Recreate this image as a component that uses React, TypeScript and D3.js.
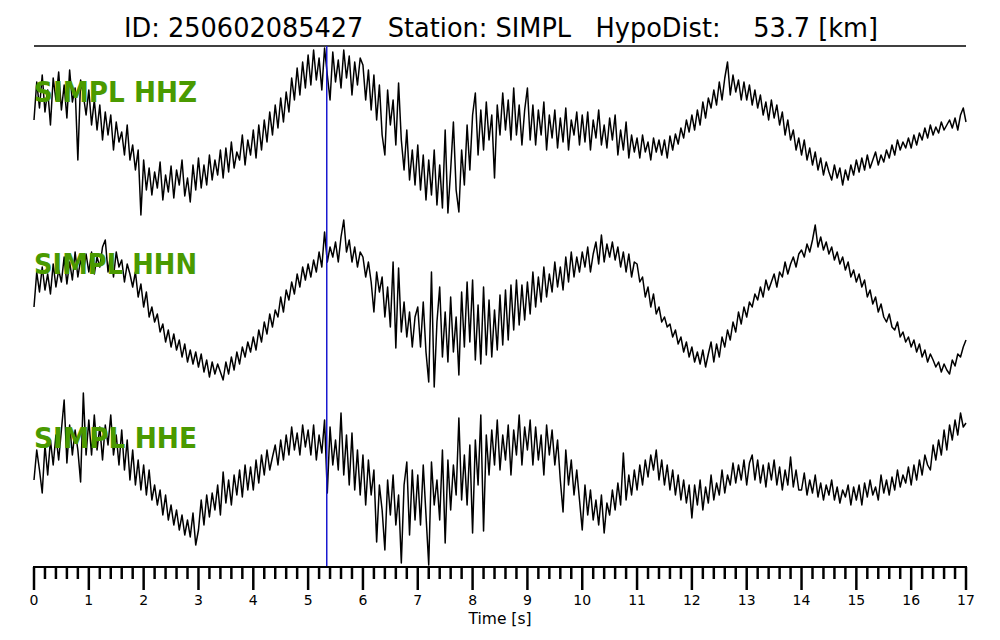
import React from 'react';
import * as d3 from 'd3';

const TITLE = 'ID: 250602085427   Station: SIMPL   HypoDist:    53.7 [km]';
const CHANNELS = ['SIMPL HHZ', 'SIMPL HHN', 'SIMPL HHE'];
const MAJOR_TICKS = [0, 1, 2, 3, 4, 5, 6, 7, 8, 9, 10, 11, 12, 13, 14, 15, 16, 17];
const TICK_LABELS = ['0', '1', '2', '3', '4', '5', '6', '7', '8', '9', '10', '11', '12', '13', '14', '15', '16', '17'];
const MINOR_PER_MAJOR = 5;
const X_LABEL = 'Time [s]';
const SAMPLE_DT = 0.05;
const PICK_TIME = 5.34;

const HHZ = [
  10, 48, 22, 55, 18, 40, 5, 52, 30, 58, 20, 45, 12, 60, 28, 42, -30, 50, 35, 15,
  40, 5, 30, 0, 25, -10, 18, -5, 15, -20, 8, -12, -2, -25, 5, -30, -15, -40, -20, -85,
  -30, -60, -38, -65, -42, -58, -32, -70, -45, -62, -36, -68, -40, -55, -30, -66, -48, -72, -35, -60,
  -28, -58, -35, -55, -25, -50, -30, -45, -20, -48, -18, -42, -12, -38, -22, -30, -5, -35, -10, -25,
  0, -28, 5, -20, 10, -12, 18, -5, 25, 2, 32, 8, 38, 18, 52, 30, 62, 35, 68, 42,
  75, 45, 80, 50, 72, 40, 82, 55, 30, 78, 48, 70, 42, 80, 52, 74, 35, 68, 45, 72,
  65, 30, 60, 20, 55, 10, 45, -5, -25, 40, 5, 30, -15, 47, -10, -40, 0, -50, -20, -55,
  -15, -60, -25, -70, -30, -65, -20, -75, -35, -78, 0, -83, -40, 8, -60, -82, -20, -55, 5, -40,
  15, 37, -25, 20, -20, 28, -10, 15, -48, 25, -5, 37, 0, 30, -10, 42, -5, 25, -15, 20,
  42, -10, 25, -15, 20, -5, 28, -20, 15, -8, 20, -18, 12, -12, 22, -20, 10, -5, 18, -15,
  15, -12, 18, -20, 10, -8, 20, -15, 5, -18, 12, -10, 15, -25, 0, -20, 8, -28, -5, -22,
  -8, -28, -5, -22, -12, -30, -8, -22, -10, -25, -10, -28, -6, -20, -4, -14, 2, -8, 10, -2,
  15, 0, 20, 5, 28, 12, 32, 22, 40, 25, 48, 30, 52, 68, 35, 55, 38, 50, 30, 48,
  30, 45, 25, 40, 22, 35, 15, 28, 10, 30, 12, 25, 5, 18, -5, 10, -10, 0, -20, -8,
  -25, -10, -30, -18, -35, -22, -40, -28, -45, -32, -42, -50, -35, -48, -38, -55, -40, -50, -35, -45,
  -30, -42, -28, -40, -25, -38, -30, -22, -35, -25, -32, -20, -28, -15, -25, -10, -20, -12, -18, -8,
  -18, -5, -15, -3, -10, 2, -8, 5, -5, 3, -3, 8, 0, 5, 10, 2, 12, 0, 15, 22,
  8,
];

const HHN = [
  -5, 30, 10, 35, 12, 28, 8, 38, 15, 32, 20, 45, 18, 40, 22, 50, 25, 42, 30, 48,
  30, 50, 28, 45, 35, 55, 62, 30, 48, 25, 50, 35, 42, 20, 38, 28, 15, 30, 5, 18,
  -5, 10, -15, -5, -20, -12, -30, -22, -40, -28, -45, -32, -48, -38, -55, -42, -60, -48, -62, -50,
  -65, -52, -70, -58, -75, -60, -72, -62, -70, -78, -60, -72, -55, -68, -50, -62, -45, -55, -40, -50,
  -35, -48, -28, -40, -20, -32, -12, -25, -8, -15, 5, -10, 12, 2, 20, 8, 28, 15, 35, 22,
  38, 25, 42, 30, 50, 35, 70, 40, 55, 45, 60, 40, 65, 82, 50, 62, 40, 55, 35, 50,
  45, 25, 40, 20, -10, 30, 10, 25, -15, 15, -25, 40, -46, 34, -30, 0, -35, -10, -45, -15,
  -5, -45, 0, -50, -80, 30, -85, -20, 15, -55, -10, -60, 5, -50, -15, -73, 10, -45, 20, -40,
  22, -58, -3, -62, 15, -53, 2, -55, -8, -48, 7, -43, 12, -38, 17, -28, 22, -23, 17, -18,
  20, -12, 30, -5, 25, 0, 35, 5, 28, 10, 40, 15, 35, 12, 45, 20, 50, 25, 45, 30,
  50, 35, 55, 30, 48, 60, 38, 67, 40, 58, 45, 60, 42, 55, 35, 50, 30, 48, 25, 40,
  38, 20, 25, 5, 15, -5, 8, -12, -5, -20, -15, -25, -22, -35, -28, -42, -35, -50, -40, -55,
  -45, -60, -50, -62, -48, -65, -52, -40, -60, -42, -55, -35, -45, -28, -38, -20, -30, -10, -22, -5,
  -15, 0, -5, 8, 2, 15, 5, 22, 12, 20, 28, 15, 30, 25, 40, 28, 38, 45, 35, 48,
  52, 45, 58, 50, 62, 77, 55, 65, 52, 60, 48, 55, 42, 50, 38, 45, 32, 40, 25, 32,
  20, 28, 15, 22, 5, 12, -2, 5, -10, -2, -15, -20, -12, -25, -28, -20, -35, -30, -40, -35,
  -45, -38, -50, -42, -55, -48, -60, -52, -58, -65, -60, -70, -62, -68, -72, -58, -64, -52, -55, -45,
  -38,
];

const HHE = [
  -5, 25, 5, -18, 30, 0, 35, 10, 40, 15, 45, 75, 12, 50, 20, 45, 25, -7, 82, 20,
  55, 20, 60, 25, 48, 15, 50, 30, 60, 20, 40, 10, 45, 5, 35, -5, 25, -10, 15, -15,
  10, -20, 5, -25, -10, -30, -15, -40, -20, -45, -30, -50, -35, -55, -40, -60, -45, -62, -38, -70,
  -55, -25, -50, -20, -42, -18, -35, -10, -40, 3, -28, -5, -30, 0, -20, 5, -22, 10, -15, 8,
  -15, 15, -8, 20, 0, 25, 5, 18, 30, 10, 35, 15, 40, 20, 48, 25, 42, 20, 50, 28,
  45, 20, 50, 15, 40, 22, 55, -18, 48, 10, 35, 5, 62, 0, 40, -10, 42, -15, 25, -20,
  20, -30, 15, -20, 5, -67, -10, -35, -75, -5, -40, 0, -50, -20, -88, -10, 13, -60, 5, -45,
  0, -50, 10, -40, -90, 13, -30, -5, -45, 25, -68, 15, -35, 10, -20, 57, -25, 20, -30, 30,
  -58, 35, -10, 60, -56, 40, 0, 45, 10, 55, 5, 40, 15, 50, 0, 45, 20, 60, 10, 48,
  25, 55, 10, 48, 15, 40, 0, 50, 20, 45, 10, 35, -5, -37, 25, -10, 15, -20, 5, -25,
  -55, -10, -40, -15, -45, -25, -50, -20, -58, -28, -40, -15, -35, -8, -30, 22, -25, 0, -20, 5,
  -15, 10, -10, 15, -2, 20, 5, 25, -5, 15, -10, 10, -15, 5, -20, 0, -25, -5, -28, -10,
  -43, -10, -30, -5, -35, -12, -28, 0, -25, -8, -20, 5, -18, 0, -10, 12, -8, 10, -5, 15,
  -10, 12, 20, -5, 15, -8, 10, -12, 12, -5, 15, -10, 8, -15, 5, -10, 18, -12, 5, -15,
  -15, 2, -20, -5, -18, 0, -22, -8, -25, -10, -20, -5, -25, -12, -28, -15, -22, -10, -30, -12,
  -25, -10, -30, -8, -22, -5, -20, -12, -25, 0, -18, -5, -20, -2, -15, 5, -12, 0, -8, 8,
  -10, 10, -5, 15, 0, 20, 10, 5, 30, 15, 35, 20, 45, 25, 50, 35, 55, 40, 62, 48,
  52,
];

const TRACES = [HHZ, HHN, HHE];

const W = 1000;
const H = 640;
const LEFT = 34;
const RIGHT = 966;
const TRACE_CENTERS = [130, 302, 475];
const LABEL_BASELINES = [102, 274, 448];
const AXIS_Y = 567;
const GREEN = '#4a9a00';

export default function App() {
  const x = d3.scaleLinear().domain([0, 17]).range([LEFT, RIGHT]);
  const minorTicks: number[] = [];
  MAJOR_TICKS.slice(0, -1).forEach((t) => {
    for (let k = 1; k < MINOR_PER_MAJOR; k++) minorTicks.push(t + k / MINOR_PER_MAJOR);
  });

  return (
    <svg
      width={W}
      height={H}
      style={{ position: 'absolute', left: 0, top: 0, background: '#fff' }}
      fontFamily="DejaVu Sans, sans-serif"
    >
      <rect x={0} y={0} width={W} height={H} fill="#fff" />
      <text
        x={501}
        y={37}
        fontSize={27}
        textAnchor="middle"
        textLength={754}
        lengthAdjust="spacingAndGlyphs"
        style={{ whiteSpace: 'pre' }}
        xmlSpace="preserve"
      >
        {TITLE}
      </text>
      <line x1={LEFT} x2={RIGHT} y1={46} y2={46} stroke="#000" strokeWidth={1.5} />

      {TRACES.map((data, i) => {
        const c = TRACE_CENTERS[i];
        const y = d3.scaleLinear().domain([-100, 100]).range([c + 100, c - 100]);
        const line = d3
          .line<number>()
          .x((_, j) => x(j * SAMPLE_DT))
          .y((d) => y(d));
        return (
          <path key={i} d={line(data) || ''} fill="none" stroke="#000" strokeWidth={1.5} strokeLinejoin="round" />
        );
      })}

      {CHANNELS.map((name, i) => (
        <text
          key={name}
          x={LEFT}
          y={LABEL_BASELINES[i]}
          fill={GREEN}
          fontWeight="bold"
          fontSize={29}
          textLength={163}
          lengthAdjust="spacingAndGlyphs"
        >
          {name}
        </text>
      ))}

      <line x1={x(PICK_TIME)} x2={x(PICK_TIME)} y1={46} y2={AXIS_Y} stroke="#1a1ad0" strokeWidth={1.5} />

      <line x1={LEFT - 1} x2={RIGHT + 1} y1={AXIS_Y} y2={AXIS_Y} stroke="#000" strokeWidth={2} />
      {minorTicks.map((t) => (
        <line key={'m' + t} x1={x(t)} x2={x(t)} y1={AXIS_Y} y2={AXIS_Y + 12} stroke="#000" strokeWidth={2.5} />
      ))}
      {MAJOR_TICKS.map((t, i) => (
        <g key={'M' + t}>
          <line x1={x(t)} x2={x(t)} y1={AXIS_Y} y2={AXIS_Y + 23} stroke="#000" strokeWidth={2.5} />
          <text x={x(t)} y={605} fontSize={14} textAnchor="middle">
            {TICK_LABELS[i]}
          </text>
        </g>
      ))}
      <text x={500} y={624} fontSize={15.5} textAnchor="middle">
        {X_LABEL}
      </text>
    </svg>
  );
}
